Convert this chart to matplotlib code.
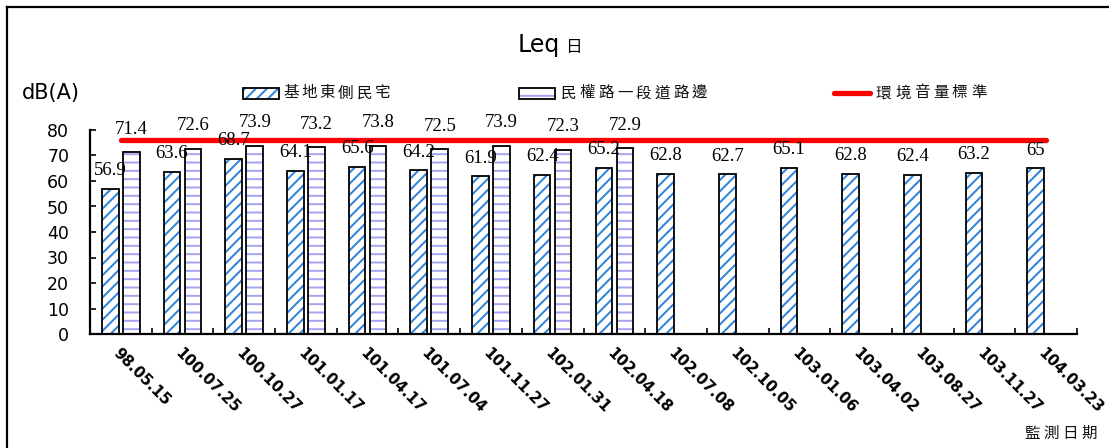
import numpy as np
import matplotlib
matplotlib.use("Agg")
import matplotlib.pyplot as plt
from matplotlib.patches import Rectangle
from matplotlib.lines import Line2D

# ---- data -------------------------------------------------------------
dates = ["98.05.15", "100.07.25", "100.10.27", "101.01.17", "101.04.17",
         "101.07.04", "101.11.27", "102.01.31", "102.04.18", "102.07.08",
         "102.10.05", "103.01.06", "103.04.02", "103.08.27", "103.11.27",
         "104.03.23"]
east_residence = [56.9, 63.6, 68.7, 64.1, 65.6, 64.2, 61.9, 62.4, 65.2,
                  62.8, 62.7, 65.1, 62.8, 62.4, 63.2, 65]
minquan_road = [71.4, 72.6, 73.9, 73.2, 73.8, 72.5, 73.9, 72.3, 72.9]
standard = [76] * len(dates)

series_names = ["基地東側民宅", "民權路一段道路邊", "環境音量標準"]
yticks = [0, 10, 20, 30, 40, 50, 60, 70, 80]

# ---- styling ----------------------------------------------------------
W, H = 1109, 448
BLUE = "#2a82dc"
LAVENDER = "#a4a4f2"
RED = "#ff0000"
CJK = "Noto Sans CJK TC"
SERIF = "Liberation Serif"
SANS = "DejaVu Sans"
plt.rcParams["hatch.linewidth"] = 1.4


def fx(x):
    return x / W


def fy(y):
    return 1 - y / H


fig = plt.figure(figsize=(W / 100, H / 100), dpi=100)
fig.patch.set_facecolor("white")

ax = fig.add_axes([fx(90), fy(334), fx(1077 - 90), (334 - 130) / H])

x = np.arange(len(dates))
bw = 0.27
off = 0.17
x1 = x - off
x2 = x[:len(minquan_road)] + off

# hatched fills, then black outlines on top
ax.bar(x1, east_residence, bw, color="white", edgecolor=BLUE, hatch="///",
       linewidth=0, zorder=2)
ax.bar(x1, east_residence, bw, fill=False, edgecolor="black", linewidth=1.3,
       zorder=3)
ax.bar(x2, minquan_road, bw, color="white", edgecolor=LAVENDER, hatch="--",
       linewidth=0, zorder=2)
ax.bar(x2, minquan_road, bw, fill=False, edgecolor="black", linewidth=1.3,
       zorder=3)

ax.plot(x, standard, color=RED, linewidth=3.8, solid_capstyle="round",
        zorder=4, clip_on=False)

# value labels
for xi, v in zip(x1, east_residence):
    ax.annotate(f"{v:g}", (xi, v), xytext=(0, 13), textcoords="offset points",
                ha="center", va="center", fontsize=13.5, family=SERIF,
                zorder=5, annotation_clip=False)
for xi, v in zip(x2, minquan_road):
    ax.annotate(f"{v:g}", (xi, v), xytext=(0, 16.5), textcoords="offset points",
                ha="center", va="center", fontsize=13.5, family=SERIF,
                zorder=5, annotation_clip=False)

# axes
ax.set_xlim(-0.5, len(dates) - 0.5)
ax.set_ylim(0, 80)
for s in ("top", "right"):
    ax.spines[s].set_visible(False)
for s in ("left", "bottom"):
    ax.spines[s].set_linewidth(1.6)
    ax.spines[s].set_color("black")

ax.set_yticks(yticks)
ax.set_yticklabels([str(t) for t in yticks], fontsize=12.5, family=SANS)
ax.tick_params(axis="y", direction="in", length=4, width=1.2, pad=15)

ax.set_xticks(x)
ax.set_xticklabels(dates, rotation=-45, ha="left", va="top",
                   rotation_mode="anchor", fontsize=10.8, family=SANS,
                   fontweight="bold")
ax.tick_params(axis="x", which="major", length=0, pad=8)
ax.set_xticks(np.arange(-0.5, len(dates), 1.0), minor=True)
ax.tick_params(axis="x", which="minor", direction="in", length=4, width=1.2)

# titles
fig.text(fx(560), fy(52), "Leq", ha="right", va="baseline", fontsize=17,
         family=SANS)
fig.text(fx(565), fy(52), "日", ha="left", va="baseline", fontsize=12,
         family=CJK)
fig.text(fx(22), fy(93), "dB(A)", ha="left", va="center", fontsize=15,
         family=SANS)


def spaced_text(x0, yc, s, pitch, size):
    for i, ch in enumerate(s):
        fig.text(fx(x0 + i * pitch), fy(yc), ch, ha="left", va="center",
                 fontsize=size, family=CJK, color="#111111")


spaced_text(1024, 433, "監測日期", 19.3, 11.2)

# legend
def legend_box(x0, fill_color, hatch):
    rect_kw = dict(transform=fig.transFigure)
    fig.add_artist(Rectangle((fx(x0), fy(99)), 36 / W, 11 / H,
                             facecolor="white", edgecolor=fill_color,
                             hatch=hatch, linewidth=0, **rect_kw))
    fig.add_artist(Rectangle((fx(x0), fy(99)), 36 / W, 11 / H, fill=False,
                             edgecolor="black", linewidth=1.3, **rect_kw))


legend_box(243, BLUE, "///")
spaced_text(283, 93, series_names[0], 18.4, 11.2)
legend_box(519, LAVENDER, "--")
spaced_text(561, 93, series_names[1], 18.7, 11.2)
fig.add_artist(Line2D([fx(834), fx(870)], [fy(93), fy(93)], color=RED,
                      linewidth=3.8, solid_capstyle="round",
                      transform=fig.transFigure))
spaced_text(876, 93, series_names[2], 19.0, 11.2)

# chart-area border (top and left edges)
fig.add_artist(Line2D([fx(7), 1], [fy(7), fy(7)], color="black",
                      linewidth=1.6, transform=fig.transFigure))
fig.add_artist(Line2D([fx(7), fx(7)], [fy(7), 0], color="black",
                      linewidth=1.6, transform=fig.transFigure))

fig.savefig("out.png", dpi=100, facecolor="white")
